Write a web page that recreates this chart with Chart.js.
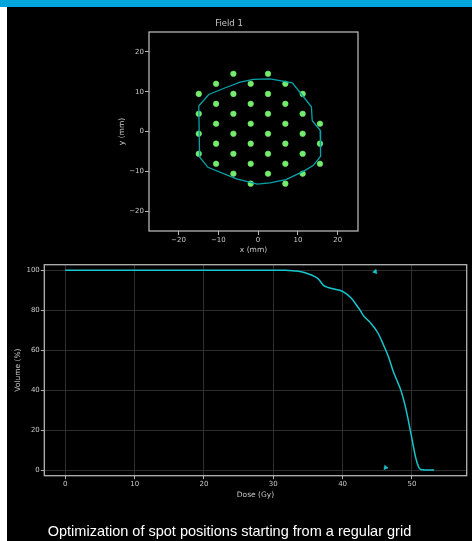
<!DOCTYPE html>
<html>
<head>
<meta charset="utf-8">
<script src="https://cdn.jsdelivr.net/npm/chart.js@4.4.1/dist/chart.umd.min.js"></script>
<style>
  html, body { margin: 0; padding: 0; background: #ffffff; }
  body { width: 472px; height: 541px; position: relative; overflow: hidden; }
  #topbar { position: absolute; left: 0; top: 0; width: 472px; height: 7px; background: #03a5dd; }
  #panel { position: absolute; left: 7px; top: 7px; width: 465px; height: 534px; background: #000000; }
  #spotWrap { position: absolute; left: 100px; top: 14px; width: 268px; height: 246px; }
  #dvhWrap { position: absolute; left: 7px; top: 250px; width: 465px; height: 255px; }
  #caption { position: absolute; left: 7px; width: 445px; top: 523px; line-height: 17px;
             font-family: "Liberation Sans", Arial, sans-serif; font-size: 14.5px; color: #ffffff;
             text-align: center; white-space: nowrap; }
</style>
</head>
<body>
<div id="topbar"></div>
<div id="panel"></div>
<div id="spotWrap"><canvas id="spotChart" width="268" height="246"></canvas></div>
<div id="dvhWrap"><canvas id="dvhChart" width="465" height="255"></canvas></div>
<div id="caption">Optimization of spot positions starting from a regular grid</div>

<script>
// Spot grid of field 1 (mm)
const spotX = [
  -6.2, 2.5,
  -10.55, -1.85, 6.85,
  -14.9, -6.2, 2.5, 11.2,
  -10.55, -1.85, 6.85,
  -14.9, -6.2, 2.5, 11.2,
  -10.55, -1.85, 6.85, 15.55,
  -14.9, -6.2, 2.5, 11.2,
  -10.55, -1.85, 6.85, 15.55,
  -14.9, -6.2, 2.5, 11.2,
  -10.55, -1.85, 6.85, 15.55,
  -6.2, 2.5, 11.2,
  -1.85, 6.85
];
const spotY = [
  14.5, 14.5,
  12.0, 12.0, 12.0,
  9.45, 9.45, 9.45, 9.45,
  6.95, 6.95, 6.95,
  4.45, 4.45, 4.45, 4.45,
  1.95, 1.95, 1.95, 1.95,
  -0.55, -0.55, -0.55, -0.55,
  -3.05, -3.05, -3.05, -3.05,
  -5.6, -5.6, -5.6, -5.6,
  -8.1, -8.1, -8.1, -8.1,
  -10.6, -10.6, -10.6,
  -13.1, -13.1
];

// Target outline in the beam's eye view (mm), closed
const contourX = [-14.9, -12.4, -8.7, -4.5, -1.2, 3.0, 8.6, 13.4, 13.6, 15.6, 15.7, 13.9, 11.6, 7.0, 3.0, -0.2, -5.4, -12.6, -14.7, -14.9];
const contourY = [6.4, 9.3, 10.8, 12.4, 13.1, 13.2, 12.2, 6.2, 2.7, 0.3, -6.2, -8.5, -9.9, -12.1, -12.9, -13.2, -11.9, -9.0, -6.4, 6.4];

// Dose-volume histogram of the target
const doseGy = [0, 10, 20, 30, 31.7, 33.0, 34.0, 35.0, 36.0, 36.6, 37.2, 37.9, 38.8, 39.6, 40.4, 41.2, 42.0, 42.6, 43.0, 44.0, 45.1, 45.9, 46.6, 47.3, 47.9, 48.4, 49.0, 49.5, 49.9, 50.2, 50.5, 50.8, 51.1, 51.5, 52.2, 53.2];
const volumePct = [100, 100, 100, 100, 100, 99.7, 99.3, 98.3, 96.8, 95.3, 92.6, 91.4, 90.6, 90.0, 88.6, 86.2, 82.6, 79.6, 77.3, 73.8, 68.6, 62.6, 56.8, 49.4, 44.3, 40.0, 32.5, 24.5, 17.5, 12.0, 6.8, 3.0, 0.7, 0.1, 0, 0];

// Small markers on the DVH
const markerDose = [44.7, 46.2];
const markerVolume = [99.3, 1.2];
const markerAngle = [140, -20];

// Tick labels
const fieldTicks = [-20, -10, 0, 10, 20];
const doseTicks = [0, 10, 20, 30, 40, 50];
const volumeTicks = [0, 20, 40, 60, 80, 100];

const FG = '#c8c8c8';
const SPINE = '#b4b4b4';
const tickFont = { family: '"DejaVu Sans", sans-serif', size: 7 };
const labelFont = { family: '"DejaVu Sans", sans-serif', size: 7.5 };
const fmt = v => String(v).replace('-', '\u2212');

// Four-sided frame around the plotting area
const framePlugin = {
  id: 'frame',
  afterDatasetsDraw(chart) {
    const { ctx, chartArea: a } = chart;
    ctx.save();
    ctx.strokeStyle = SPINE;
    ctx.lineWidth = 1.3;
    ctx.strokeRect(a.left, a.top, a.right - a.left, a.bottom - a.top);
    ctx.restore();
  }
};

function fixedTicks(list) {
  return scale => { scale.ticks = list.map(v => ({ value: v })); };
}

new Chart(document.getElementById('spotChart'), {
  type: 'scatter',
  data: {
    datasets: [
      {
        label: 'target',
        data: contourX.map((x, i) => ({ x, y: contourY[i] })),
        showLine: true,
        borderColor: '#06a2a8',
        borderWidth: 1.3,
        pointRadius: 0,
        tension: 0
      },
      {
        label: 'spots',
        data: spotX.map((x, i) => ({ x, y: spotY[i] })),
        backgroundColor: '#74ec6c',
        borderColor: 'rgba(116,236,108,0.55)',
        borderWidth: 1,
        pointRadius: 2.8
      }
    ]
  },
  options: {
    responsive: false,
    animation: false,
    layout: { padding: { left: 0, right: 10, top: 0, bottom: 0 } },
    plugins: {
      legend: { display: false },
      tooltip: { enabled: false },
      title: {
        display: true,
        text: 'Field 1',
        color: FG,
        font: { family: '"DejaVu Sans", sans-serif', size: 8.5, weight: 'normal' },
        padding: { top: 4.9, bottom: 2.9 }
      }
    },
    scales: {
      x: {
        type: 'linear', min: -27.4, max: 25.1,
        afterBuildTicks: fixedTicks(fieldTicks),
        afterFit: s => { s.height = 29; },
        border: { display: false },
        grid: { drawOnChartArea: false, drawTicks: true, tickLength: 4, tickColor: SPINE, tickWidth: 1 },
        ticks: { color: FG, font: tickFont, padding: 1, maxRotation: 0, callback: fmt },
        title: { display: true, text: 'x (mm)', color: FG, font: labelFont, padding: { top: 0, bottom: 5.5 } }
      },
      y: {
        type: 'linear', min: -25, max: 25,
        afterBuildTicks: fixedTicks(fieldTicks),
        afterFit: s => { s.width = 49; },
        border: { display: false },
        grid: { drawOnChartArea: false, drawTicks: true, tickLength: 4, tickColor: SPINE, tickWidth: 1 },
        ticks: { color: FG, font: tickFont, padding: 1, callback: fmt },
        title: { display: true, text: 'y (mm)', color: FG, font: labelFont, padding: { top: 18, bottom: 0 } }
      }
    }
  },
  plugins: [framePlugin]
});

new Chart(document.getElementById('dvhChart'), {
  type: 'scatter',
  data: {
    datasets: [
      {
        label: 'DVH',
        data: doseGy.map((x, i) => ({ x, y: volumePct[i] })),
        showLine: true,
        borderColor: '#16c6ce',
        borderWidth: 1.5,
        pointRadius: 0,
        cubicInterpolationMode: 'monotone'
      },
      {
        label: 'markers',
        data: markerDose.map((x, i) => ({ x, y: markerVolume[i] })),
        pointStyle: 'triangle',
        rotation: markerAngle,
        pointRadius: 2.6,
        backgroundColor: '#16c6ce',
        borderColor: '#16c6ce',
        borderWidth: 0.5
      }
    ]
  },
  options: {
    responsive: false,
    animation: false,
    layout: { padding: { left: 0, right: 5.3, top: 14.7, bottom: 0 } },
    plugins: { legend: { display: false }, tooltip: { enabled: false } },
    scales: {
      x: {
        type: 'linear', min: -3.03, max: 57.9,
        afterBuildTicks: fixedTicks(doseTicks),
        afterFit: s => { s.height = 29.3; },
        border: { display: false },
        grid: { color: '#3a3a3a', lineWidth: 0.8, drawTicks: true, tickLength: 3.5, tickColor: SPINE, tickWidth: 1 },
        ticks: { color: FG, font: tickFont, padding: 0.5, maxRotation: 0, callback: fmt },
        title: { display: true, text: 'Dose (Gy)', color: FG, font: labelFont, padding: { top: 0, bottom: 5.5 } }
      },
      y: {
        type: 'linear', min: -2.85, max: 102.8,
        afterBuildTicks: fixedTicks(volumeTicks),
        afterFit: s => { s.width = 37.3; },
        border: { display: false },
        grid: { color: '#3a3a3a', lineWidth: 0.8, drawTicks: true, tickLength: 3.5, tickColor: SPINE, tickWidth: 1 },
        ticks: { color: FG, font: tickFont, padding: 1, callback: fmt },
        title: { display: true, text: 'Volume (%)', color: FG, font: labelFont, padding: { top: 6.8, bottom: 0 } }
      }
    }
  },
  plugins: [framePlugin]
});
</script>
</body>
</html>
